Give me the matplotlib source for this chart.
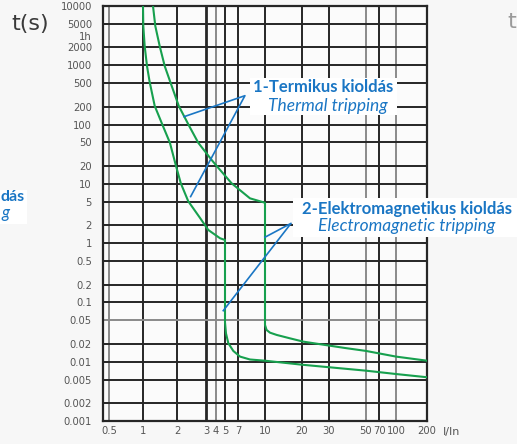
import numpy as np
import matplotlib.pyplot as plt
from matplotlib.patches import Rectangle
from matplotlib.ticker import NullLocator
from matplotlib.transforms import blended_transform_factory

# Data
# tripping curve, lower boundary: thermal part, then magnetic part
thermal_low_x = [1.0, 1.006, 1.035, 1.085, 1.146, 1.27, 1.5, 1.73, 1.96, 2.11, 2.34, 2.76, 3.2, 4.42, 5.0]
thermal_low_t = [10000, 4600, 2100, 970, 520, 206, 95, 49.5, 20, 10.2, 5.1, 2.66, 1.67, 1.21, 1.13]
mag_low_x = [5.0, 5.13, 5.45, 6.2, 7.19, 8.2, 10, 20, 50, 100, 200]
mag_low_t = [0.046, 0.030, 0.0205, 0.0152, 0.0122, 0.0109, 0.0104, 0.0089, 0.00706, 0.0062, 0.00547]

# upper boundary
thermal_high_x = [1.226, 1.285, 1.405, 1.556, 1.745, 2.05, 2.37, 2.69, 3.53, 4.07, 5.94, 8.2, 10]
thermal_high_t = [10000, 4600, 2113, 973, 522, 206, 95, 49.5, 25.3, 20, 10.2, 5.7, 4.8]
mag_high_x = [10, 10.3, 10.98, 12.45, 15.96, 20.4, 37.1, 50, 100, 200]
mag_high_t = [0.0417, 0.0343, 0.0309, 0.0283, 0.0248, 0.0218, 0.0171, 0.0152, 0.0122, 0.0104]

# pointer lines (end a, tip, end b)
ptr1_x = [2.21, 7.67, 2.42]
ptr1_t = [136, 307, 6.1]
ptr2_x = [10.0, 16.3, 4.79]
ptr2_t = [1.26, 2.16, 0.0726]

x_ticks = [0.5, 1, 2, 3, 4, 5, 7, 10, 20, 30, 50, 70, 100, 200]
x_labels = ['0.5', '1', '2', '3', '4', '5', '7', '10', '20', '30', '50', '70', '100', '200']
y_ticks = [0.001, 0.002, 0.005, 0.01, 0.02, 0.05, 0.1, 0.2, 0.5, 1, 2, 5,
           10, 20, 50, 100, 200, 500, 1000, 2000, 5000, 10000]
y_labels = ['0.001', '0.002', '0.005', '0.01', '0.02', '0.05', '0.1', '0.2', '0.5', '1', '2', '5',
            '10', '20', '50', '100', '200', '500', '1000', '2000', '5000', '10000']

text_1a = '1-Termikus kioldás'
text_1b = 'Thermal tripping'
text_2a = '2-Elektromagnetikus kioldás'
text_2b = 'Electromagnetic tripping'

# Plot parameters
W, H = 517, 444
blue = '#1a76c4'
green = '#17a04e'
grid_dark = '#262626'
grid_light = '#8a8a8a'
tick_color = '#555555'
tick_font = 'DejaVu Sans'
tick_size = 8
label_font = ['Lato', 'DejaVu Sans']

# the chart's current axis is not a plain log axis: gridline spacing is irregular
x_scale_px = [109, 143, 177, 206, 216, 225, 238, 265, 302, 329, 366, 379, 396, 427]
LX = np.log10(x_ticks)
PX = np.array(x_scale_px, float)
s0 = (PX[1] - PX[0]) / (LX[1] - LX[0])
s1 = (PX[-1] - PX[-2]) / (LX[-1] - LX[-2])


def fwd(x):
    lx = np.log10(np.maximum(np.asarray(x, float), 1e-12))
    p = np.interp(lx, LX, PX)
    p = np.where(lx < LX[0], PX[0] + (lx - LX[0]) * s0, p)
    p = np.where(lx > LX[-1], PX[-1] + (lx - LX[-1]) * s1, p)
    return p


def inv(p):
    p = np.asarray(p, float)
    lx = np.interp(p, PX, LX)
    lx = np.where(p < PX[0], LX[0] + (p - PX[0]) / s0, lx)
    lx = np.where(p > PX[-1], LX[-1] + (p - PX[-1]) / s1, lx)
    return 10 ** lx


def fx(px):
    return px / W


def fy(py):
    return 1 - py / H


# Figure
fig = plt.figure(figsize=(W / 100, H / 100), dpi=100, facecolor='#f7f7f7')
ax = fig.add_axes([fx(103), fy(421), (427 - 103) / W, (421 - 6) / H])
ax.set_facecolor('#fbfbfb')

ax.set_xscale('function', functions=(fwd, inv))
ax.set_yscale('log')
ax.set_xlim(inv(103), 200)
ax.set_ylim(0.001, 10000)

ax.set_xticks(x_ticks)
ax.set_xticklabels(x_labels)
ax.set_yticks(y_ticks)
ax.set_yticklabels(y_labels)
ax.xaxis.set_minor_locator(NullLocator())
ax.yaxis.set_minor_locator(NullLocator())
ax.tick_params(length=0, colors=tick_color, labelsize=tick_size)
ax.tick_params(axis='y', pad=8)
ax.tick_params(axis='x', pad=3.5)
for lab in ax.get_xticklabels() + ax.get_yticklabels():
    lab.set_family(tick_font)
    lab.set_stretch('condensed')

# grid
for v in x_ticks:
    c = grid_light if v in (0.5, 4, 50, 100) else grid_dark
    ax.axvline(v, color=c, lw=1.4 if v != 3 else 2.0, zorder=1)
for v in y_ticks:
    c = grid_light if v in (0.05,) else grid_dark
    ax.axhline(v, color=c, lw=1.4, zorder=1)
for s in ax.spines.values():
    s.set_color(grid_dark)
    s.set_linewidth(1.6)

# curves
ax.plot(thermal_low_x + mag_low_x, thermal_low_t + mag_low_t, color=green, lw=1.5, zorder=3)
ax.plot(thermal_high_x + mag_high_x, thermal_high_t + mag_high_t, color=green, lw=1.5, zorder=3)

# pointers
ax.plot(ptr1_x, ptr1_t, color=blue, lw=1.2, zorder=4)
ax.plot(ptr2_x, ptr2_t, color=blue, lw=1.2, zorder=4)

# axis texts
trans = blended_transform_factory(ax.transAxes, ax.transData)
ax.text(-0.034, 3600, '1h', transform=trans, ha='right', va='top',
        color=tick_color, fontsize=tick_size - 0.7, family=tick_font)
fig.text(fx(452), fy(432), 'I/In', ha='center', va='center',
         color=tick_color, fontsize=tick_size, family=tick_font)
fig.text(fx(30), fy(24), 't(s)', ha='center', va='center', color='#3a3a3a', fontsize=16)

# label boxes
for x0, y0, x1, y1 in [(250, 78, 397, 115), (293, 198, 517, 237), (0, 190, 27, 224)]:
    fig.patches.append(Rectangle((fx(x0), fy(y1)), (x1 - x0) / W, (y1 - y0) / H,
                                 transform=fig.transFigure, facecolor='white',
                                 edgecolor='none', zorder=2))

fig.text(fx(323.5), fy(87), text_1a, ha='center', va='center', color=blue,
         fontsize=12, fontweight='bold', family=label_font, zorder=5)
fig.text(fx(327.5), fy(106), text_1b, ha='center', va='center', color=blue,
         fontsize=12.5, style='italic', family=label_font, zorder=5)
fig.text(fx(406.5), fy(209), text_2a, ha='center', va='center', color=blue,
         fontsize=12, fontweight='bold', family=label_font, zorder=5)
fig.text(fx(407), fy(226), text_2b, ha='center', va='center', color=blue,
         fontsize=12.5, style='italic', family=label_font, zorder=5)

# cut-off neighbours at the image edges
fig.text(fx(25), fy(197), 'dás', ha='right', va='center', color=blue,
         fontsize=11.5, fontweight='bold', family=label_font, zorder=5)
fig.text(fx(9), fy(213), 'g', ha='right', va='center', color=blue,
         fontsize=12, style='italic', family=label_font, zorder=5)
fig.text(fx(507), fy(22), 't', ha='left', va='center', color='#9a9a9a', fontsize=16)

fig.savefig('out.png', dpi=100, facecolor=fig.get_facecolor())
